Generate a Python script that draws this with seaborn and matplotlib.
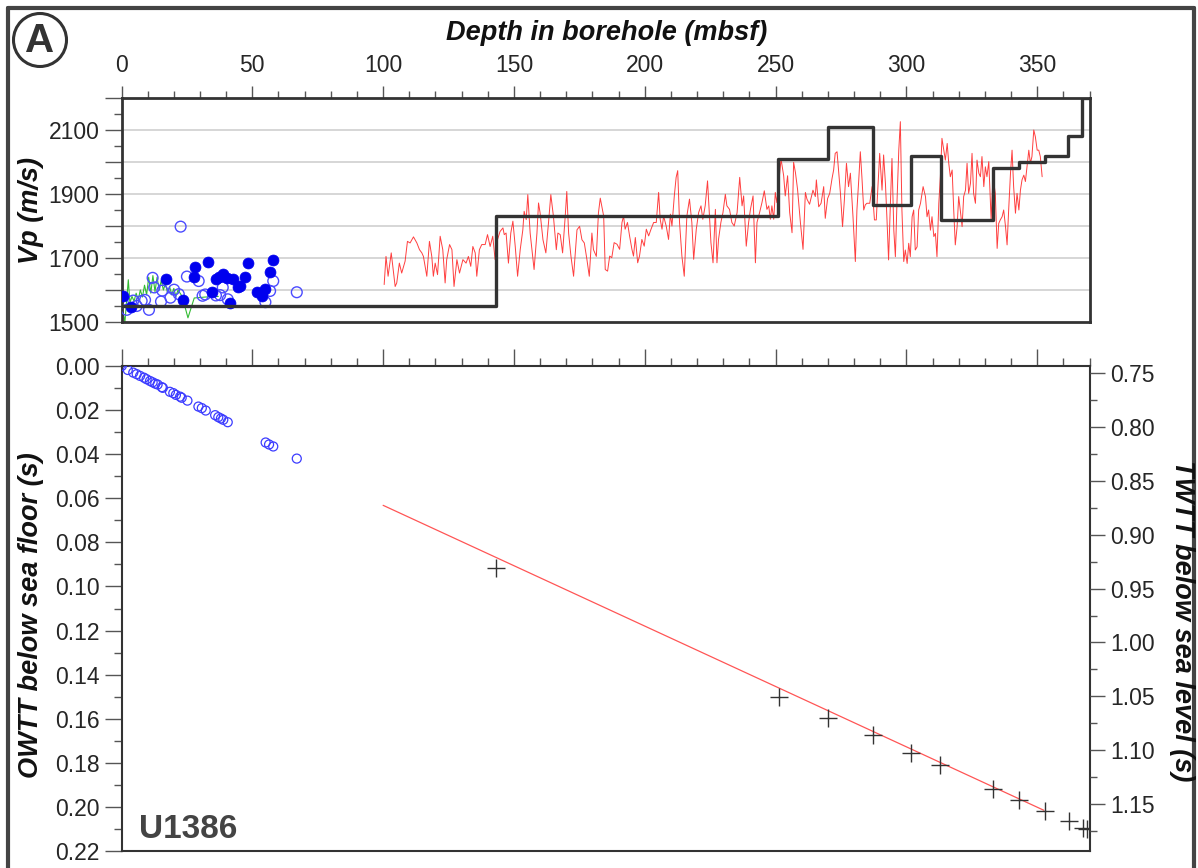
import numpy as np
import pandas as pd
import matplotlib
matplotlib.use("Agg")
import matplotlib.pyplot as plt
import seaborn as sns
from matplotlib.ticker import MultipleLocator, FuncFormatter
from matplotlib.patches import Ellipse
from matplotlib.lines import Line2D

# ---------------- data ----------------
# Black interval-velocity step model (start depth of each interval, velocity)
step_depth = [0, 143.2, 250.9, 270.2, 287.1, 301.9, 313.1, 333.0, 343.0, 352.9, 361.9, 367.3, 370.0]
step_vp = [1550, 1830, 2010, 2110, 1865, 2020, 1820, 1980, 2000, 2020, 2080, 2200, 2200]

# Red downhole sonic log
red_depth = [
    100.4, 101.1, 101.9, 103.1, 104.6, 105.2, 106.2, 107.1, 108.4, 109.3,
    110.3, 111.6, 112.9, 113.9, 114.8, 115.4, 116.7, 117.7, 118.6, 119.2,
    119.9, 120.8, 121.8, 122.8, 123.7, 124.3, 125.4, 126.3, 127.1, 128.2,
    129.2, 130.5, 131.7, 132.6, 133.5, 134.3, 135.2, 135.8, 136.8, 137.7,
    139.0, 139.9, 140.9, 141.9, 142.8, 143.7, 144.7, 145.8, 146.3, 147.0,
    147.9, 148.8, 149.6, 150.5, 151.4, 152.4, 153.4, 153.9, 154.7, 155.3,
    156.2, 156.9, 157.7, 158.8, 159.4, 160.0, 161.1, 162.2, 163.2, 164.1,
    165.1, 166.2, 166.8, 167.7, 168.6, 169.6, 170.2, 170.9, 171.8, 172.8,
    174.1, 175.1, 176.0, 176.9, 177.9, 178.8, 179.8, 180.4, 181.5, 182.3,
    183.0,
    184.3, 184.9, 185.8, 186.6, 187.4, 188.3, 189.4, 190.4, 191.3, 191.9,
    192.5, 193.4, 194.2, 195.1, 195.7, 196.4, 197.3, 198.0, 198.9, 199.8,
    200.6, 201.5, 202.4, 203.4, 204.4, 205.3, 205.9, 206.6, 207.2, 208.2,
    209.1, 209.8, 210.4, 211.3, 212.0, 212.6, 213.3, 214.2, 215.1, 216.1,
    217.1, 218.0, 218.7, 219.7, 220.6, 221.5, 222.2, 223.1, 224.0, 224.8,
    225.3, 226.1, 227.0, 227.6, 228.2, 229.1, 229.9, 230.8, 231.4, 232.4,
    233.3, 234.2, 235.3, 236.3, 237.2, 237.8, 238.8, 239.7, 240.4, 241.4,
    242.3, 242.9, 243.9, 244.8, 245.7, 246.7, 247.4, 248.0, 248.6, 249.3,
    249.9, 250.5, 251.6, 252.1, 253.1, 253.7, 254.6, 255.4, 256.3, 256.9,
    257.6, 258.4, 259.5, 260.5, 261.4, 262.0, 263.0,
    264.3, 265.2, 265.6, 266.5, 267.4, 268.4, 269.0, 269.9, 270.7, 271.6,
    272.2, 272.8, 273.5, 274.1, 274.8, 275.6, 276.3, 277.1, 277.9, 278.6,
    279.6, 280.5, 281.1, 281.8, 282.4, 283.0, 283.7, 284.3, 284.9, 286.0,
    286.9, 287.8, 288.5, 289.0, 289.8, 290.7, 291.3, 292.0, 292.6, 293.2,
    293.9, 294.5, 295.2, 295.8, 296.4, 297.1, 297.7, 298.3, 299.0, 299.6,
    300.3, 300.9, 301.5, 302.2, 302.8, 303.4, 304.1, 304.7, 305.4, 306.4,
    307.3, 307.9, 308.5, 309.2, 309.8, 310.5, 311.1, 311.7, 312.4, 313.0,
    313.6, 314.3, 314.9, 315.6, 316.2, 316.8, 317.5, 318.1, 318.7, 319.4,
    320.0, 320.6, 321.3, 321.9, 322.6, 323.2, 323.8, 324.5, 325.1, 325.7,
    326.4, 327.0, 327.7, 328.3, 328.9, 329.6, 330.2, 330.8, 331.5, 332.4,
    333.1, 334.0, 334.7, 335.3, 335.9, 336.6, 337.2, 337.9, 338.5, 339.1,
    339.8, 340.4, 341.0, 341.7, 342.3, 343.0, 343.6, 344.2, 344.9, 345.5,
    346.1, 346.8, 347.4, 348.0, 348.7, 349.3, 350.0, 350.6, 351.2, 351.9,
]
red_vp = [
    1617, 1705, 1643, 1716, 1611, 1622, 1684, 1653, 1690, 1752,
    1747, 1766, 1747, 1726, 1716, 1705, 1643, 1752, 1705, 1643,
    1684, 1648, 1768, 1726, 1622, 1695, 1742, 1726, 1611, 1695,
    1653, 1695, 1684, 1705, 1674, 1736, 1716, 1643, 1726, 1742,
    1742, 1773, 1736, 1768, 1695, 1757, 1783, 1794, 1773, 1778,
    1684, 1778, 1815, 1736, 1643, 1726, 1788, 1846, 1820, 1898,
    1778, 1726, 1664, 1778, 1872, 1841, 1757, 1716, 1809, 1898,
    1830, 1726, 1778, 1773, 1716, 1830, 1908, 1778, 1705, 1643,
    1788, 1799, 1757, 1747, 1695, 1643, 1778, 1726, 1705, 1841,
    1887,
    1831, 1664, 1659, 1706, 1701, 1748, 1743, 1727, 1811, 1831,
    1790, 1811, 1769, 1727, 1706, 1764, 1685, 1706, 1758, 1737,
    1790, 1769, 1790, 1811, 1811, 1905, 1821, 1790, 1831, 1800,
    1758, 1837, 1800, 1894, 1952, 1973, 1811, 1706, 1643, 1831,
    1884, 1811, 1696, 1790, 1842, 1863, 1821, 1863, 1941, 1821,
    1748, 1685, 1852, 1685, 1758, 1811, 1842, 1899, 1863, 1852,
    1811, 1800, 1842, 1952, 1863, 1894, 1737, 1811, 1852, 1894,
    1685, 1811, 1842, 1873, 1910, 1852, 1863, 1821, 1863, 1821,
    1905, 1873, 1967, 2009, 1957, 1894, 1957, 1842, 1779, 1999,
    1967, 1915, 1811, 1727, 1905, 1884, 1868,
    1912, 1892, 1944, 1860, 1871, 1923, 1824, 1886, 1902, 1949,
    1975, 2027, 2032, 1970, 1902, 1798, 1881, 1996, 1923, 1965,
    1829, 1689, 1850, 1944, 2032, 1954, 1850, 1866, 1871, 1871,
    1923, 1819, 1819, 1902, 2027, 1912, 2022, 1933, 1819, 1694,
    1871, 2011, 1787, 1704, 1871, 2037, 2126, 1850, 1689, 1725,
    1683, 1746, 1704, 1829, 1850, 1725, 1735, 1850, 1871, 1923,
    1892, 1829, 1850, 1787, 1829, 1767, 1777, 1704, 1871, 1954,
    2074, 2037, 2006, 2058, 1996, 1954, 1975, 1850, 1741, 1798,
    1892, 1850, 1798, 1892, 1912, 1996, 1902, 1933, 2027, 1902,
    1871, 2006, 1965, 1954, 2017, 1923, 1985, 1954, 2001, 1819,
    1954, 1902, 1730, 1808, 1819, 1829, 1850, 1798, 1741, 1850,
    1965, 2037, 1923, 1840, 1902, 1850, 1912, 1944, 1959, 1939,
    1985, 2037, 1996, 2017, 2100, 2079, 2037, 2037, 2017, 1954,
]

# Green core-logger velocity
green_depth = [0.0, 0.6, 1.3, 2.0, 2.6, 3.2, 4.0, 4.8, 5.6, 6.4,
               7.2, 8.0, 8.8, 9.6, 10.4, 11.2, 12.0, 12.8, 13.6, 14.4,
               15.2, 16.0, 16.8, 17.6, 18.4, 19.2, 20.0, 20.8, 21.6, 22.4,
               23.2, 25.4, 27.8, 32.0, 37.0]
green_vp = [1560, 1530, 1500, 1570, 1632, 1560, 1580, 1565, 1590, 1570,
            1600, 1578, 1615, 1585, 1640, 1590, 1645, 1595, 1640, 1600,
            1630, 1600, 1620, 1590, 1610, 1585, 1605, 1580, 1600, 1590,
            1580, 1513, 1575, 1578, 1580]

# Blue filled circles (discrete velocity measurements)
fill_depth = [0.7, 3.5, 17.1, 23.6, 28.0, 27.6, 32.9, 34.6, 36.0, 37.4, 38.7, 40.2,
              41.6, 42.5, 44.4, 45.3, 47.1, 48.4, 51.9, 53.7, 55.0, 56.7, 58.0]
fill_vp = [1581, 1547, 1633, 1568, 1671, 1642, 1688, 1595, 1635, 1641, 1651, 1639,
           1559, 1634, 1610, 1613, 1641, 1683, 1593, 1581, 1603, 1656, 1695]

# Blue open circles (discrete velocity measurements)
open_depth = [2.0, 4.5, 5.8, 7.7, 9.0, 10.5, 11.9, 12.5, 15.1, 15.6, 18.7, 20.1, 21.9,
              22.6, 25.0, 29.5, 31.0, 32.0, 36.1, 37.7, 38.7, 40.6, 55.0, 56.8, 58.0, 67.0]
open_vp = [1538, 1567, 1550, 1566, 1569, 1538, 1638, 1608, 1564, 1598, 1576, 1601, 1587,
           1798, 1642, 1628, 1582, 1586, 1583, 1584, 1608, 1571, 1562, 1597, 1628, 1593]

# Lower panel: one-way travel time of the core samples
owtt_depth = [0.1, 2.4, 4.5, 5.8, 7.1, 8.6, 9.6, 10.9, 11.9, 12.9, 13.8, 15.4, 15.8,
              18.5, 19.8, 20.8, 22.4, 23.0, 25.2, 29.4, 30.7, 32.2, 35.8, 37.0, 38.0,
              38.9, 40.6, 55.1, 56.4, 58.0, 67.0]
owtt_s = [0.0, 0.0018, 0.0030, 0.0037, 0.0045, 0.0053, 0.0060, 0.0068, 0.0074, 0.0080,
          0.0084, 0.0096, 0.0099, 0.0117, 0.0123, 0.0131, 0.0139, 0.0144, 0.0157, 0.0184,
          0.0191, 0.0202, 0.0223, 0.0232, 0.0238, 0.0244, 0.0255, 0.0347, 0.0356, 0.0365,
          0.0420]

# Lower panel: red linear time-depth trend and black interval-boundary crosses
trend_depth = [100.0, 352.5]
trend_owtt = [0.0632, 0.2015]
cross_depth = [143.2, 251.2, 269.9, 287.1, 301.8, 313.0, 333.0, 342.9, 352.8, 362.1, 367.6, 369.1]
cross_owtt = [0.0918, 0.1500, 0.1595, 0.1676, 0.1756, 0.1809, 0.1917, 0.1967, 0.2017,
              0.2062, 0.2095, 0.2098]

# ---------------- style ----------------
sns.set_theme(style="white")
plt.rcParams["font.family"] = ["Liberation Sans", "DejaVu Sans"]

W, H = 1198, 868
fig = plt.figure(figsize=(W / 100, H / 100), dpi=100)


def rect(x0, y0, x1, y1):
    return [x0 / W, 1 - y1 / H, (x1 - x0) / W, (y1 - y0) / H]


ax1 = fig.add_axes(rect(121.5, 98, 1089.5, 322))
ax2 = fig.add_axes(rect(121.5, 366, 1089.5, 851))

TICK = "#555555"
LAB = 16.5

# ---------------- top panel ----------------
ax1.set_xlim(0, 370)
ax1.set_ylim(1500, 2200)
for v in range(1600, 2200, 100):
    ax1.axhline(v, color="#d0d0d0", lw=1.2, zorder=0)

sns.lineplot(x=red_depth, y=red_vp, ax=ax1, color="#ff2a2a", lw=0.7, alpha=0.9,
             sort=False, estimator=None, zorder=2)
sns.lineplot(x=green_depth, y=green_vp, ax=ax1, color="#33bb33", lw=0.8,
             sort=False, estimator=None, zorder=2)
sns.scatterplot(x=open_depth, y=open_vp, ax=ax1, marker="o", s=60,
                facecolors="none", edgecolors="#4b4bff", linewidth=1.0, zorder=3)
ax1.collections[-1].set_facecolor("none")
sns.scatterplot(x=fill_depth, y=fill_vp, ax=ax1, marker="o", s=62,
                color="#0000ee", edgecolor="#0000ee", linewidth=0.5, zorder=4)
sns.lineplot(x=step_depth, y=step_vp, ax=ax1, color="#333333", lw=2.4,
             drawstyle="steps-post", sort=False, estimator=None, zorder=5)

ax1.xaxis.tick_top()
ax1.xaxis.set_major_locator(MultipleLocator(50))
ax1.xaxis.set_minor_locator(MultipleLocator(10))
ax1.yaxis.set_major_locator(MultipleLocator(100))
ax1.yaxis.set_minor_locator(MultipleLocator(50))
ax1.yaxis.set_major_formatter(FuncFormatter(
    lambda v, p: f"{int(round(v))}" if int(round(v)) in (1500, 1700, 1900, 2100) else ""))
ax1.tick_params(axis="x", which="major", top=True, bottom=False, labeltop=True,
                labelbottom=False, length=9, width=1, color=TICK, labelsize=LAB, pad=6)
ax1.tick_params(axis="x", which="minor", top=True, bottom=False, length=5, width=1, color=TICK)
ax1.tick_params(axis="y", which="major", left=True, right=False, length=12, width=1,
                color=TICK, labelsize=LAB, pad=4)
ax1.tick_params(axis="y", which="minor", left=True, right=False, length=6, width=1, color=TICK)
for s in ax1.spines.values():
    s.set_color("#333333")
    s.set_linewidth(2.0)
ax1.set_xlabel("")
ax1.set_ylabel("")

# ---------------- bottom panel ----------------
ax2.set_xlim(0, 370)
ax2.set_ylim(0.22, 0.0)
sns.lineplot(x=trend_depth, y=trend_owtt, ax=ax2, color="#ff5555", lw=0.9,
             sort=False, estimator=None, zorder=2)
sns.scatterplot(x=cross_depth, y=cross_owtt, ax=ax2, marker="+", s=170,
                color="#333333", linewidth=1.0, zorder=3)
sns.scatterplot(x=owtt_depth, y=owtt_s, ax=ax2, marker="o", s=42,
                facecolors="none", edgecolors="#3c3cff", linewidth=0.9, zorder=4)
ax2.collections[-1].set_facecolor("none")

ax2.xaxis.tick_top()
ax2.xaxis.set_major_locator(MultipleLocator(50))
ax2.xaxis.set_minor_locator(MultipleLocator(10))
ax2.yaxis.set_major_locator(MultipleLocator(0.02))
ax2.yaxis.set_minor_locator(MultipleLocator(0.01))
ax2.yaxis.set_major_formatter(FuncFormatter(lambda v, p: f"{v:.2f}"))
ax2.tick_params(axis="x", which="major", top=True, bottom=False, labeltop=False,
                labelbottom=False, length=12, width=1, color=TICK)
ax2.tick_params(axis="x", which="minor", top=True, bottom=False, length=6, width=1, color=TICK)
ax2.tick_params(axis="y", which="major", left=True, right=False, length=12, width=1,
                color=TICK, labelsize=LAB, pad=4)
ax2.tick_params(axis="y", which="minor", left=True, right=False, length=6, width=1, color=TICK)
for s in ax2.spines.values():
    s.set_color("#333333")
    s.set_linewidth(1.5)
ax2.set_xlabel("")
ax2.set_ylabel("")

ax3 = ax2.twinx()
ax3.set_ylim(1.1935, 0.7435)
ax3.yaxis.set_major_locator(MultipleLocator(0.05))
ax3.yaxis.set_minor_locator(MultipleLocator(0.025))
ax3.yaxis.set_major_formatter(FuncFormatter(lambda v, p: f"{v:.2f}"))
ax3.tick_params(axis="y", which="major", right=True, left=False, length=11, width=1,
                color=TICK, labelsize=LAB, pad=4)
ax3.tick_params(axis="y", which="minor", right=True, left=False, length=5, width=1, color=TICK)
for s in ax3.spines.values():
    s.set_visible(False)
ax3.grid(False)

# ---------------- labels & decorations ----------------
lab_kw = dict(fontsize=19.5, fontweight="bold", fontstyle="italic", color="#111111")
fig.text(607 / W, 1 - 33 / H, "Depth in borehole (mbsf)", ha="center", va="center", **lab_kw)
fig.text(31 / W, 1 - 210 / H, "Vp (m/s)", rotation=90, ha="center", va="center", **lab_kw)
fig.text(31 / W, 1 - 615 / H, "OWTT below sea floor (s)", rotation=90, ha="center",
         va="center", **lab_kw)
fig.text(1182 / W, 1 - 621 / H, "TWTT below sea level (s)", rotation=270, ha="center",
         va="center", **lab_kw)
fig.text(139 / W, 1 - 838 / H, "U1386", ha="left", va="baseline", fontsize=24,
         fontweight="bold", color="#444444")

# circled "A"
fig.add_artist(Ellipse((40 / W, 1 - 40 / H), 53 / W, 53 / H, transform=fig.transFigure,
                       fill=False, edgecolor="#333333", lw=2.2))
fig.text(40 / W, 1 - 41 / H, "A", ha="center", va="center", fontsize=29,
         fontweight="bold", color="#333333")

# outer frame
frame_kw = dict(transform=fig.transFigure, color="#444444", lw=3)
fig.add_artist(Line2D([8 / W, 8 / W], [0, 1 - 8 / H], **frame_kw))
fig.add_artist(Line2D([8 / W, 1194 / W], [1 - 8 / H, 1 - 8 / H], **frame_kw))
fig.add_artist(Line2D([1194 / W, 1194 / W], [0, 1 - 8 / H], **frame_kw))

fig.savefig("out.png", dpi=100)
